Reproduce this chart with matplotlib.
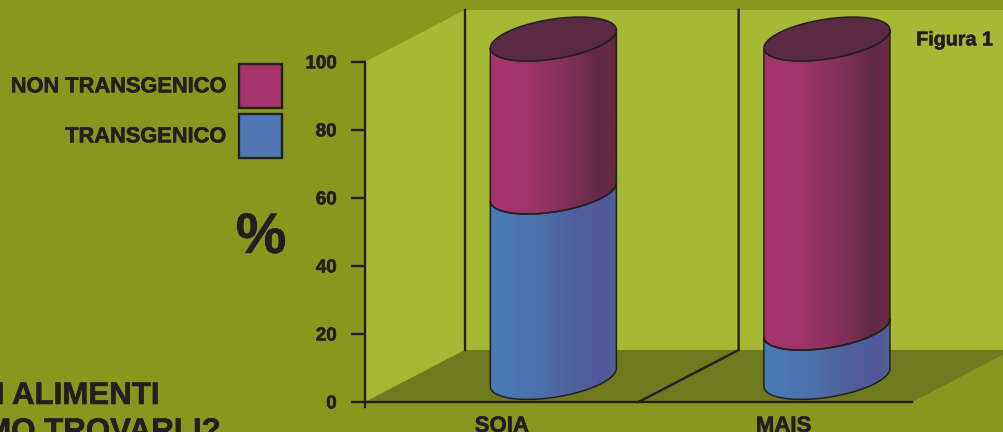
import numpy as np
from matplotlib import pyplot as plt
from matplotlib import patheffects as pe
from matplotlib.colors import LinearSegmentedColormap
from matplotlib.patches import PathPatch, Rectangle
from matplotlib.path import Path

categories = ['SOIA', 'MAIS']
transgenico = [54.5, 14.5]
non_transgenico = [45, 85]
y_ticks = [0, 20, 40, 60, 80, 100]

INK = '#231f20'
BG = '#87981e'
WALL = '#a6b934'
FLOOR = '#6f7a1e'
TOP = '#5a2a42'
plt.rcParams['font.family'] = ['Liberation Sans', 'DejaVu Sans']
heavy = [pe.withStroke(linewidth=0.4, foreground=INK)]

W, H = 1003, 432
fig = plt.figure(figsize=((W + 0.2) / 100, (H + 0.2) / 100), dpi=100, facecolor=BG)
ax = fig.add_axes([365 / W, (H - 402) / H, 547 / W, 340 / H], facecolor='none')
ax.set_xlim(0, 2)
ax.set_ylim(0, 100)

# px to data scale
sx = 2 / 547
sy = 100 / 340
dx = 100 * sx   # depth of the box
dy = 52 * sy

# walls and floor
ax.fill([0, dx, dx, 0], [0, dy, 100 + dy, 100], color=WALL, lw=0, clip_on=False, zorder=1)
ax.fill([dx, 2 + dx, 2 + dx, dx], [dy, dy, 100 + dy, 100 + dy], color=WALL, lw=0, clip_on=False, zorder=1)
ax.fill([0, dx, 2 + dx, 2], [0, dy, dy, 0], color=FLOOR, lw=0, clip_on=False, zorder=1)
ax.plot([dx, dx], [dy, 100 + dy], color=INK, lw=1.7, clip_on=False, zorder=2)
ax.plot([1, 1 + dx, 1 + dx], [0, dy, 100 + dy], color=INK, lw=1.7, clip_on=False, zorder=2)

magenta = LinearSegmentedColormap.from_list('m', [(0, '#a5356b'), (0.3, '#9f3468'), (0.62, '#823058'),
                                                  (0.85, '#602a46'), (0.95, '#6a2846'), (1, '#5a3320')])
blue = LinearSegmentedColormap.from_list('b', [(0, '#4a7cb8'), (0.4, '#4d6fa8'), (0.7, '#4f5f9a'),
                                               (0.9, '#54569a'), (1, '#4f6492')])
grad = np.linspace(0, 1, 256).reshape(1, -1)

a = 63 * sx
b = 20 * sy
s = 9 * sy
t_front = np.linspace(np.pi, 2 * np.pi, 80)
t_all = np.linspace(0, 2 * np.pi, 160)


def segment(cx, y0, y1, cmap):
    # front arc of the lower rim, then back along the front arc of the upper rim
    xs = cx + a * np.cos(t_front)
    low = y0 + s * np.cos(t_front) + b * np.sin(t_front)
    up = y1 + s * np.cos(t_front) + b * np.sin(t_front)
    verts = np.column_stack([np.r_[xs, xs[::-1]], np.r_[low, up[::-1]]])
    patch = PathPatch(Path(np.vstack([verts, verts[0]])), fc='none', ec=INK, lw=1.1, zorder=5, clip_on=False)
    im = ax.imshow(grad, cmap=cmap, aspect='auto', zorder=4,
                   extent=[cx - a, cx + a, y0 - 2 * b, y1 + 2 * b])
    ax.add_patch(patch)
    im.set_clip_box(fig.bbox)
    im.set_clip_path(patch)


for i in range(len(categories)):
    cx = i + 0.5 + 51.5 * sx
    base = 24.5 * sy
    segment(cx, base, base + transgenico[i], blue)
    segment(cx, base + transgenico[i], base + transgenico[i] + non_transgenico[i], magenta)
    top = base + transgenico[i] + non_transgenico[i]
    ax.fill(cx + a * np.cos(t_all), top + s * np.cos(t_all) + b * np.sin(t_all),
            fc=TOP, ec=INK, lw=1.1, clip_on=False, zorder=6)

ax.set_xlim(0, 2)
ax.set_ylim(0, 100)

# axes
for side in ['top', 'right']:
    ax.spines[side].set_visible(False)
for side in ['left', 'bottom']:
    ax.spines[side].set_color(INK)
    ax.spines[side].set_linewidth(1.7)
    ax.spines[side].set_zorder(3)
ax.set_yticks(y_ticks)
ax.set_yticklabels(y_ticks, fontsize=13.5, fontweight='bold', color=INK)
ax.tick_params(axis='y', length=10, width=1.7, color=INK, pad=10.5)
ax.set_xticks([0.5, 1.53])
ax.set_xticklabels(categories, fontsize=16, fontweight='bold', color=INK)
ax.tick_params(axis='x', length=0, pad=10)
ax.plot([0, 0], [0, -1.5], color=INK, lw=1.7, clip_on=False, zorder=3)
for lab in ax.get_xticklabels() + ax.get_yticklabels():
    lab.set_path_effects(heavy)


# legend and loose text, px coordinates from the top left
def put(x, y, text, size, ha='left'):
    fig.text(x / W, 1 - y / H, text, fontsize=size, fontweight='bold', color=INK, ha=ha, va='center',
             path_effects=heavy)


fig.add_artist(Rectangle((239 / W, 1 - 108 / H), 43 / W, 44 / H, transform=fig.transFigure,
                         fc='#a5346b', ec=INK, lw=1.7))
fig.add_artist(Rectangle((239 / W, 1 - 158 / H), 43 / W, 44 / H, transform=fig.transFigure,
                         fc='#4f77b3', ec=INK, lw=1.7))
put(226, 87, 'NON TRANSGENICO', 15.7, 'right')
put(226, 137, 'TRANSGENICO', 15.7, 'right')
put(261, 238, '%', 41, 'center')
put(916, 40, 'Figura 1', 14.2)
put(160, 396, 'I ALIMENTI', 22.5, 'right')
put(221, 432, 'MO TROVARLI?', 22.5, 'right')

fig.savefig('out.png', dpi=100, facecolor=BG)
